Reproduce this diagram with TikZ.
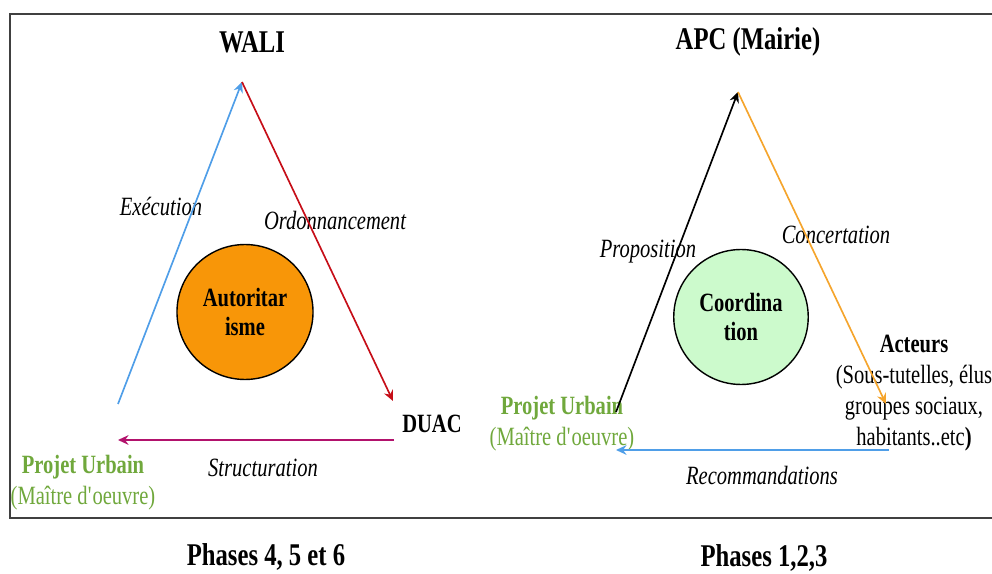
\documentclass[tikz,border=0pt]{standalone}
\usepackage{fontspec}
\setmainfont{Liberation Serif}[FakeStretch=0.78]
\usetikzlibrary{arrows.meta,positioning,shapes.geometric}
\definecolor{lblue}{RGB}{79,158,232}
\definecolor{dred}{RGB}{198,14,24}
\definecolor{magen}{RGB}{178,18,108}
\definecolor{orng}{RGB}{245,165,45}
\definecolor{circorange}{RGB}{248,150,8}
\definecolor{circgreen}{RGB}{204,250,204}
\definecolor{projgreen}{RGB}{112,168,60}

\begin{document}
\begin{tikzpicture}[x=0.02cm, y=-0.02cm, >={Stealth[length=6pt,width=5.5pt,inset=2pt]},
    title/.style={font=\fontsize{18}{20}\selectfont\bfseries},
    lbl/.style={font=\fontsize{15}{17}\selectfont\itshape},
    actor/.style={font=\fontsize{15}{17.5}\selectfont, align=center},
    proj/.style={font=\fontsize{15}{17.5}\selectfont, align=center, text=projgreen},
    pole/.style={ellipse, draw, line width=0.8pt, minimum width=2.48cm, minimum height=2.7cm,
      align=center, font=\fontsize{15}{17}\selectfont\bfseries},
    link/.style={->, line width=0.95pt}]
\clip (0,0) rectangle (992,574);
\draw[line width=1.1pt, black!75] (992,14) -- (10,14) -- (10,518) -- (992,518);

% left triangle
\node[title] (wali) at (252,42) {WALI};
\node[pole, fill=circorange] (auto) at (245,312) {Autoritar\\isme};
\node[title] (duac) at (432,424) {\fontsize{15}{17}\selectfont DUAC};
\node[lbl] (exec) at (161,207) {Exécution};
\node[lbl] (ordo) at (335,220) {Ordonnancement};
\node[lbl] (struct) at (263,468) {Structuration};
\node[proj] (projL) at (83,483) {\textbf{Projet Urbain}\\(Maître d\textquotesingle oeuvre)};
\node[title] (phasesL) at (266,557) {Phases 4, 5 et 6};

\coordinate (wtop) at (242,82);
\coordinate (wleft) at (118,404);
\coordinate (wright) at (393,401);
\coordinate (wbr) at (394,440);
\coordinate (wbl) at (118,440);
\draw[link, lblue] (wleft) -- (wtop);
\draw[link, dred] (wtop) -- (wright);
\draw[link, magen] (wbr) -- (wbl);

% right triangle
\node[title] (apc) at (748,42) {APC (Mairie)};
\node[pole, fill=circgreen] (coord) at (741,317) {Coordina\\tion};
\node[lbl] (propo) at (648,252) {Proposition};
\node[lbl] (conc) at (836,235) {Concertation};
\node[lbl] (reco) at (762,475) {Recommandations};
\node[proj] (projR) at (562,424) {\textbf{Projet Urbain}\\(Maître d\textquotesingle oeuvre)};
\node[actor] (acteurs) at (914,393) {\textbf{Acteurs}\\(Sous-tutelles, élus\\groupes sociaux,\\habitants..etc\textbf{)}};
\node[title] (phasesR) at (764,558) {Phases 1,2,3};

\coordinate (atop) at (738,92);
\coordinate (aleft) at (616,412);
\coordinate (aright) at (886,404);
\coordinate (rbr) at (889,450);
\coordinate (rbl) at (616,450);
\draw[link, black] (aleft) -- (atop);
\draw[link, orng] (atop) -- (aright);
\draw[link, lblue] (rbr) -- (rbl);
\end{tikzpicture}
\end{document}
